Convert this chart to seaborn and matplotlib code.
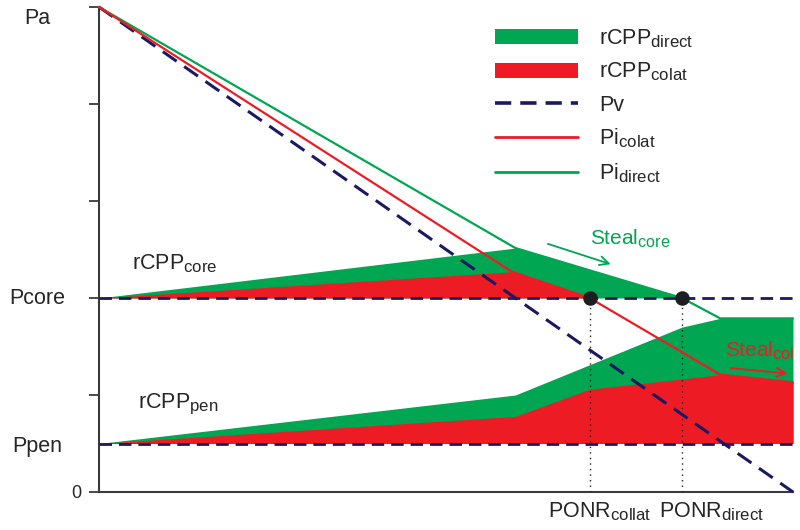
import matplotlib
matplotlib.use("Agg")
import matplotlib.pyplot as plt
import matplotlib._mathtext as _mt
import seaborn as sns
import pandas as pd
from matplotlib.patches import Patch
from matplotlib.lines import Line2D

# ---------------- data ----------------
P_A = 5.0
P_CORE = 2.0
P_PEN = 0.5
X_MAX = 10.0
ponr_collat = 7.07
ponr_direct = 8.40

pv_x = [0.0, 10.0]
pv_y = [5.0, 0.0]
pi_colat_x = [0.0, 5.95, 7.07, 8.95, 10.0]
pi_colat_y = [5.0, 2.27, 2.0, 1.21, 1.13]
pi_direct_x = [0.0, 6.0, 8.40, 8.95, 10.0]
pi_direct_y = [5.0, 2.515, 2.0, 1.79, 1.79]

core_direct_x = [0.0, 6.0, 8.40]
core_direct_y = [2.0, 2.515, 2.0]
core_colat_x = [0.0, 5.95, 7.07]
core_colat_y = [2.0, 2.27, 2.0]

pen_direct_x = [0.0, 6.0, 8.40, 8.95, 10.0]
pen_direct_y = [0.5, 1.0, 1.70, 1.79, 1.79]
pen_colat_x = [0.0, 6.0, 7.07, 8.40, 8.95, 10.0]
pen_colat_y = [0.5, 0.78, 1.06, 1.165, 1.21, 1.13]

y_tick_values = [0, 1, 2, 3, 4, 5]
y_tick_labels = ["0", "", "", "", "", ""]

GREEN = "#00a651"
RED = "#ed1c24"
NAVY = "#1b1a60"
AXC = "#3a3a3a"

# ---------------- style ----------------
sns.set_theme(style="ticks")
plt.rcParams["font.family"] = ["Liberation Sans", "DejaVu Sans"]
plt.rcParams["mathtext.fontset"] = "custom"
plt.rcParams["mathtext.rm"] = "Liberation Sans"
plt.rcParams["mathtext.it"] = "Liberation Sans:italic"
plt.rcParams["mathtext.bf"] = "Liberation Sans:bold"
# slightly larger subscripts, as in the reference
_mt.SHRINK_FACTOR = 0.78

fig = plt.figure(figsize=(8, 5.3), dpi=100)
ax = fig.add_axes([99 / 800, 1 - 492 / 530, 694 / 800, 485 / 530])

# ---------------- filled areas ----------------
ax.fill_between(core_direct_x, P_CORE, core_direct_y, color=GREEN, lw=0, zorder=1)
ax.fill_between(core_colat_x, P_CORE, core_colat_y, color=RED, lw=0, zorder=2)
ax.fill_between(pen_direct_x, P_PEN, pen_direct_y, color=GREEN, lw=0, zorder=1)
ax.fill_between(pen_colat_x, P_PEN, pen_colat_y, color=RED, lw=0, zorder=2)

# ---------------- reference levels ----------------
for lvl in (P_CORE, P_PEN):
    ax.plot([0, X_MAX], [lvl, lvl], color=NAVY, lw=2.0,
            linestyle=(0, (4.5, 2.5)), zorder=3, clip_on=False)

# PONR dotted verticals
for xv in (ponr_collat, ponr_direct):
    ax.plot([xv, xv], [0, P_CORE], color="#222222", lw=1.0,
            linestyle=(0, (1, 3)), zorder=3)

# ---------------- lines ----------------
df_pv = pd.DataFrame({"x": pv_x, "y": pv_y})
df_pc = pd.DataFrame({"x": pi_colat_x, "y": pi_colat_y})
df_pd = pd.DataFrame({"x": pi_direct_x, "y": pi_direct_y})

sns.lineplot(data=df_pd, x="x", y="y", ax=ax, color=GREEN, lw=1.6,
             sort=False, estimator=None, zorder=5, clip_on=False)
sns.lineplot(data=df_pc, x="x", y="y", ax=ax, color=RED, lw=1.6,
             sort=False, estimator=None, zorder=6, clip_on=False)
sns.lineplot(data=df_pv, x="x", y="y", ax=ax, color=NAVY, lw=2.2,
             linestyle=(0, (5.5, 3)), sort=False, estimator=None, zorder=4,
             clip_on=False)

# PONR dots
ax.scatter([ponr_collat, ponr_direct], [P_CORE, P_CORE], s=110,
           color="#1e1e1e", zorder=7, lw=0)

# ---------------- annotations ----------------
ax.text(0.48, 2.29, r"rCPP$_{\rm core}$", fontsize=15.5, va="baseline", ha="left")
ax.text(0.56, 0.876, r"rCPP$_{\rm pen}$", fontsize=15.5, va="baseline", ha="left")

ax.text(7.07, 2.55, r"Steal$_{\rm core}$", fontsize=15, color=GREEN,
        va="baseline", ha="left")
ax.annotate("", xy=(7.41, 2.34), xytext=(6.43, 2.567),
            arrowprops=dict(arrowstyle="->", color=GREEN, lw=1.3,
                            mutation_scale=16))

ax.text(9.02, 1.39, r"Steal$_{\rm col}$", fontsize=15, color=RED,
        va="baseline", ha="left", clip_on=True, zorder=8)
ax.annotate("", xy=(9.96, 1.22), xytext=(9.06, 1.28),
            arrowprops=dict(arrowstyle="->", color=RED, lw=1.3,
                            mutation_scale=16), zorder=8)

ax.text(ponr_collat - 0.6, -0.262, r"PONR$_{\rm collat}$", fontsize=15.5,
        va="baseline", ha="left", clip_on=False)
ax.text(ponr_direct - 0.33, -0.262, r"PONR$_{\rm direct}$", fontsize=15.5,
        va="baseline", ha="left", clip_on=False)

# ---------------- axes ----------------
ax.set_xlim(0, X_MAX)
ax.set_ylim(0, P_A)
ax.set_xticks([])
ax.set_yticks(y_tick_values)
ax.set_yticklabels(y_tick_labels, fontsize=13)
ax.tick_params(axis="y", length=7, width=1.3, color=AXC, pad=6)
ax.set_xlabel("")
ax.set_ylabel("")
for s in ("top", "right"):
    ax.spines[s].set_visible(False)
for s in ("left", "bottom"):
    ax.spines[s].set_color(AXC)
    ax.spines[s].set_linewidth(1.5)

ytr = ax.get_yaxis_transform()
lab_x = (37 - 99) / 694
ax.text(lab_x, 4.88, "Pa", transform=ytr, fontsize=15.5, ha="center", va="center")
ax.text(lab_x, P_CORE, "Pcore", transform=ytr, fontsize=15.5, ha="center", va="center")
ax.text(lab_x, P_PEN - 0.03, "Ppen", transform=ytr, fontsize=15.5, ha="center", va="center")

# ---------------- legend ----------------
handles = [
    Patch(facecolor=GREEN, edgecolor="none"),
    Patch(facecolor=RED, edgecolor="none"),
    Line2D([], [], color=NAVY, lw=2.6, linestyle=(0, (4.5, 2.5))),
    Line2D([], [], color=RED, lw=2.0),
    Line2D([], [], color=GREEN, lw=2.0),
]
labels = [r"rCPP$_{\rm direct}$", r"rCPP$_{\rm colat}$", "Pv",
          r"Pi$_{\rm colat}$", r"Pi$_{\rm direct}$"]
leg = ax.legend(handles, labels, loc="upper left",
                bbox_to_anchor=(495 / 800, 1 - 27 / 530),
                bbox_transform=fig.transFigure, frameon=False, fontsize=15.5,
                handlelength=3.85, handleheight=0.72, handletextpad=1.0,
                labelspacing=0.52, borderpad=0, borderaxespad=0)

fig.savefig("out.png", dpi=100)
